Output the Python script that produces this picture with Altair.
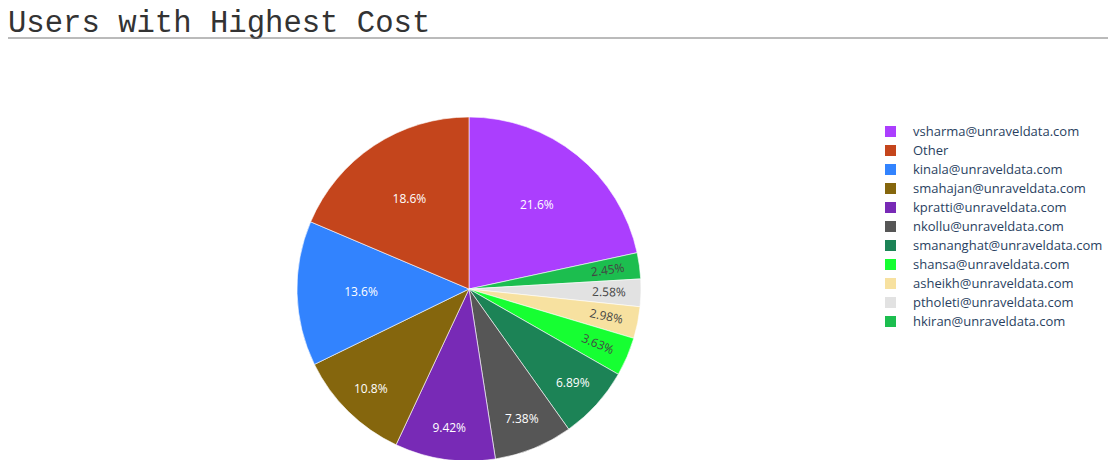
import altair as alt
import pandas as pd

chart_title = "Users with Highest Cost"

users = [
    "vsharma@unraveldata.com",
    "hkiran@unraveldata.com",
    "ptholeti@unraveldata.com",
    "asheikh@unraveldata.com",
    "shansa@unraveldata.com",
    "smananghat@unraveldata.com",
    "nkollu@unraveldata.com",
    "kpratti@unraveldata.com",
    "smahajan@unraveldata.com",
    "kinala@unraveldata.com",
    "Other",
]
pct = [21.6, 2.45, 2.58, 2.98, 3.63, 6.89, 7.38, 9.42, 10.8, 13.6, 18.6]
labels = ["21.6%", "2.45%", "2.58%", "2.98%", "3.63%", "6.89%", "7.38%", "9.42%", "10.8%", "13.6%", "18.6%"]

legend_order = [
    "vsharma@unraveldata.com",
    "Other",
    "kinala@unraveldata.com",
    "smahajan@unraveldata.com",
    "kpratti@unraveldata.com",
    "nkollu@unraveldata.com",
    "smananghat@unraveldata.com",
    "shansa@unraveldata.com",
    "asheikh@unraveldata.com",
    "ptholeti@unraveldata.com",
    "hkiran@unraveldata.com",
]
legend_colors = [
    "#AB3EFE", "#C4451C", "#3283FE", "#85660D", "#782AB6", "#565656",
    "#1C8356", "#16FF32", "#F7E1A0", "#E2E2E2", "#1CBE4F",
]

df = pd.DataFrame({"user": users, "pct": pct, "label": labels, "ord": list(range(len(users)))})

CX, CY = 461, 221

arcs = alt.Chart(df).mark_arc(outerRadius=172, stroke="#ffffff", strokeWidth=0.6).encode(
    theta=alt.Theta("pct:Q", stack=True),
    order=alt.Order("ord:Q"),
    color=alt.Color(
        "user:N",
        scale=alt.Scale(domain=legend_order, range=legend_colors),
        sort=legend_order,
        legend=alt.Legend(
            title=None,
            orient="none",
            legendX=876,
            legendY=57,
            symbolType="square",
            symbolSize=121,
            symbolStrokeWidth=0,
            labelFontSize=13,
            labelFont="Open Sans",
            labelColor="#2a3f5f",
            labelLimit=400,
            rowPadding=5.0,
            labelOffset=16,
        ),
    ),
    x=alt.value(CX),
    y=alt.value(CY),
)

text = alt.Chart(df).transform_joinaggregate(
    total="sum(pct)"
).transform_window(
    cum="sum(pct)", sort=[alt.SortField("ord")], frame=[None, 0]
).transform_calculate(
    middeg="(datum.cum - datum.pct/2) / datum.total * 360",
).transform_calculate(
    midrad="datum.middeg * PI / 180",
    ang="datum.pct < 5 ? (datum.middeg - 90 + 360) % 360 : 0",
    tcol="datum.pct < 5 ? '#444444' : '#ffffff'",
    rad="datum.pct >= 13 ? 108 : 140",
).mark_text(fontSize=12, font="Open Sans").encode(
    theta=alt.Theta("midrad:Q", scale=None),
    radius=alt.Radius("rad:Q", scale=None),
    text="label:N",
    angle=alt.Angle("ang:Q", scale=None),
    color=alt.Color("tcol:N", scale=None),
    x=alt.value(CX),
    y=alt.value(CY),
)

title_df = pd.DataFrame({"t": [chart_title]})

title_text = alt.Chart(title_df).mark_text(
    align="left",
    baseline="alphabetic",
    font="Liberation Mono",
    fontSize=30.6,
    color="#333333",
).encode(text="t:N", x=alt.value(0), y=alt.value(-36))

rule = alt.Chart(title_df).mark_rule(color="#777777", strokeWidth=1).encode(
    x=alt.value(-8), x2=alt.value(1110), y=alt.value(-30)
)

chart = alt.layer(title_text, rule, arcs, text).properties(
    width=1100,
    height=392,
    padding={"left": 0, "top": 60, "right": 0, "bottom": 0},
    autosize=alt.AutoSizeParams(type="none"),
).configure_view(stroke=None)

chart.save("out.html", embed_options={"renderer": "svg", "actions": False})
